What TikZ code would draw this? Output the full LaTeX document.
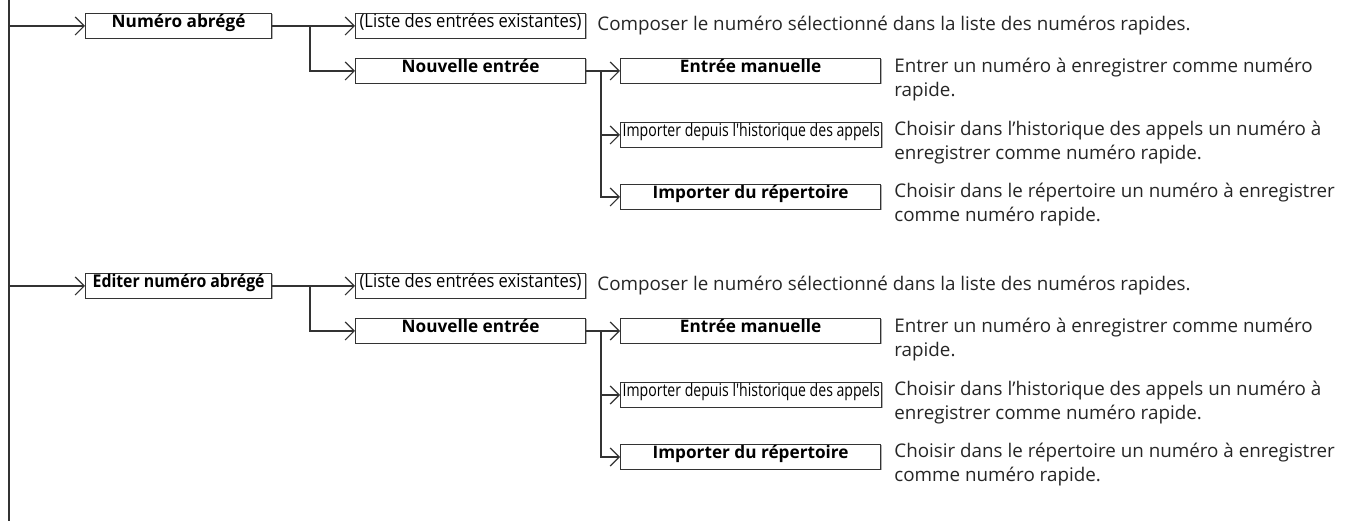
\documentclass[tikz,border=0pt]{standalone}
\usepackage{fontspec}
\setmainfont{Open Sans}
\newfontfamily\narrowfont[FakeStretch=0.9]{Open Sans}
\newfontfamily\condfont[FakeStretch=0.8]{Open Sans}
\usetikzlibrary{arrows.meta,shadows}
\tikzset{
  menubox/.style={draw=black!80, fill=white, line width=0.6pt, inner xsep=1pt, inner ysep=0pt,
    text height=6.8pt, text depth=5.7pt, anchor=west, font=\fontsize{8.6}{9}\selectfont\bfseries,
    drop shadow={shadow xshift=0.5pt, shadow yshift=-0.5pt, fill=black!50, opacity=0.6}},
  desc/.style={anchor=west, align=left, inner sep=0pt, font=\fontsize{9.4}{12}\selectfont, text=black!85},
  arr/.style={-{Straight Barb[length=4.5pt,width=9pt]}},
  link/.style={draw=black!80, line width=0.6pt}
}
\begin{document}
\begin{tikzpicture}[x=0.5pt,y=-0.5pt]
  \useasboundingbox (0,0) rectangle (1346,523);
  \coordinate (top) at (9,0);
  \coordinate (bot) at (9,521);
  \draw[link] (top) -- (bot);

  % Numero abrege
  \coordinate (t1) at (9,26);
  \node[menubox, minimum width=93pt] (abr1) at (85,26) {Numéro abrégé};
  \coordinate (b1) at (310,26);
  \node[menubox, minimum width=115pt, font=\fontsize{9.2}{9}\selectfont\narrowfont] (list1) at (355,26) {(Liste des entrées existantes)};
  \node[menubox, minimum width=115pt] (new1) at (355,71) {Nouvelle entrée};
  \coordinate (c1) at (601,71);
  \node[menubox, minimum width=130pt] (man1) at (620,71) {Entrée manuelle};
  \node[menubox, minimum width=130pt, font=\fontsize{8.8}{9}\selectfont\condfont] (hist1) at (620,135) {Importer depuis l'historique des appels};
  \node[menubox, minimum width=130pt] (rep1) at (620,197) {Importer du répertoire};
  \node[desc] (dlist1) at (597,26) {Composer le numéro sélectionné dans la liste des numéros rapides.};
  \node[desc] (dman1) at (894,80) {Entrer un numéro à enregistrer comme numéro\\rapide.};
  \node[desc] (dhist1) at (894,143) {Choisir dans l'historique des appels un numéro à\\enregistrer comme numéro rapide.};
  \node[desc] (drep1) at (894,205) {Choisir dans le répertoire un numéro à enregistrer\\comme numéro rapide.};
  \draw[link, arr] (t1) -- (abr1);
  \draw[link] (abr1) -- (b1);
  \draw[link, arr] (b1) -- (list1);
  \draw[link, arr] (b1) |- (new1);
  \draw[link, arr] (new1) -- (man1);
  \draw[link, arr] (c1) |- (hist1);
  \draw[link, arr] (c1) |- (rep1);

  % Editer numero abrege
  \coordinate (t2) at (9,286);
  \node[menubox, minimum width=93pt, font=\fontsize{8.8}{9}\selectfont\narrowfont\bfseries] (abr2) at (85,286) {Editer numéro abrégé};
  \coordinate (b2) at (310,286);
  \node[menubox, minimum width=115pt, font=\fontsize{9.2}{9}\selectfont\narrowfont] (list2) at (355,286) {(Liste des entrées existantes)};
  \node[menubox, minimum width=115pt] (new2) at (355,331) {Nouvelle entrée};
  \coordinate (c2) at (601,331);
  \node[menubox, minimum width=130pt] (man2) at (620,331) {Entrée manuelle};
  \node[menubox, minimum width=130pt, font=\fontsize{8.8}{9}\selectfont\condfont] (hist2) at (620,395) {Importer depuis l'historique des appels};
  \node[menubox, minimum width=130pt] (rep2) at (620,457) {Importer du répertoire};
  \node[desc] (dlist2) at (597,286) {Composer le numéro sélectionné dans la liste des numéros rapides.};
  \node[desc] (dman2) at (894,340) {Entrer un numéro à enregistrer comme numéro\\rapide.};
  \node[desc] (dhist2) at (894,403) {Choisir dans l'historique des appels un numéro à\\enregistrer comme numéro rapide.};
  \node[desc] (drep2) at (894,465) {Choisir dans le répertoire un numéro à enregistrer\\comme numéro rapide.};
  \draw[link, arr] (t2) -- (abr2);
  \draw[link] (abr2) -- (b2);
  \draw[link, arr] (b2) -- (list2);
  \draw[link, arr] (b2) |- (new2);
  \draw[link, arr] (new2) -- (man2);
  \draw[link, arr] (c2) |- (hist2);
  \draw[link, arr] (c2) |- (rep2);
\end{tikzpicture}
\end{document}
